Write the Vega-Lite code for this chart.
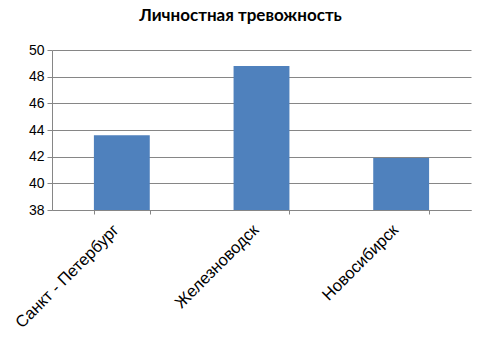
{
  "$schema": "https://vega.github.io/schema/vega-lite/v6.json",
  "width": 419,
  "height": 160,
  "autosize": {"type": "none"},
  "padding": {"left": 52, "top": 50, "right": 10, "bottom": 138},
  "background": "white",
  "title": {
    "text": "Личностная тревожность",
    "font": "Lato",
    "fontSize": 17,
    "fontWeight": "bold",
    "color": "#000000",
    "anchor": "middle",
    "dx": -21,
    "offset": 18
  },
  "data": {
    "values": [
      {"city": "Санкт - Петербург", "value": 43.6},
      {"city": "Железноводск", "value": 48.8},
      {"city": "Новосибирск", "value": 41.9}
    ]
  },
  "mark": {"type": "bar", "color": "#4f81bd", "clip": true},
  "encoding": {
    "x": {
      "field": "city",
      "type": "nominal",
      "sort": null,
      "scale": {"paddingInner": 0.6, "paddingOuter": 0.3},
      "axis": {
        "title": null,
        "labelAngle": -45,
        "labelAlign": "right",
        "labelBaseline": "middle",
        "labelFont": "Liberation Sans",
        "labelFontSize": 16.5,
        "labelColor": "#000000",
        "labelPadding": 13,
        "labelOffset": -6,
        "tickBand": "extent",
        "tickSize": 4,
        "tickColor": "#868686",
        "domainColor": "#868686",
        "grid": false
      }
    },
    "y": {
      "field": "value",
      "type": "quantitative",
      "scale": {"domain": [38, 50], "zero": false},
      "axis": {
        "title": null,
        "values": [38, 40, 42, 44, 46, 48, 50],
        "labelFont": "Liberation Sans",
        "labelFontSize": 14,
        "labelColor": "#000000",
        "labelPadding": 3,
        "tickSize": 5,
        "tickColor": "#868686",
        "domainColor": "#868686",
        "gridColor": "#868686",
        "gridWidth": 1
      }
    }
  },
  "config": {"view": {"stroke": null}}
}
